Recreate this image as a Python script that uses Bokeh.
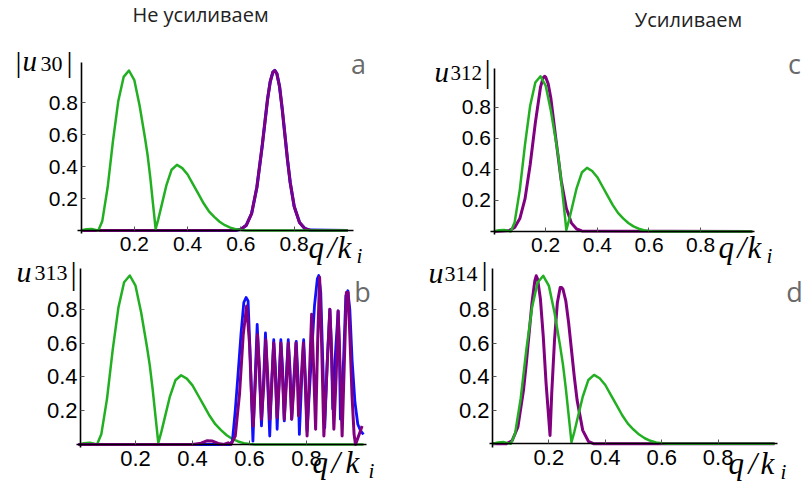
from bokeh.plotting import figure
from bokeh.models import Range1d, FixedTicker, Label, LinearAxis
from bokeh.embed import file_html
from bokeh.resources import INLINE

# ---------------- data ----------------
X_TICKS = [0.2, 0.4, 0.6, 0.8]
Y_TICKS = [0.2, 0.4, 0.6, 0.8]
TITLES = ["Не усиливаем", "Усиливаем"]
TAGS = ["a", "b", "c", "d"]
Y_SUBS = ["30", "313", "312", "314"]

# green curve (same in all four panels): (q/k_i, |u|)
GREEN = [(0.0, 0.0), (0.02, 0.008), (0.04, 0.01), (0.055, 0.004), (0.065, 0.0),
         (0.08, 0.06), (0.10, 0.27), (0.12, 0.56), (0.14, 0.81), (0.16, 0.96),
         (0.18, 1.0), (0.20, 0.94), (0.22, 0.78), (0.24, 0.58), (0.25, 0.47),
         (0.26, 0.33), (0.27, 0.17), (0.28, 0.01), (0.29, 0.07), (0.30, 0.14),
         (0.32, 0.28), (0.34, 0.38), (0.36, 0.41), (0.38, 0.39), (0.40, 0.35),
         (0.42, 0.29), (0.44, 0.23), (0.46, 0.17), (0.48, 0.12), (0.50, 0.085),
         (0.52, 0.055), (0.54, 0.033), (0.56, 0.018), (0.58, 0.008), (0.60, 0.003),
         (0.62, 0.0), (1.0, 0.0)]

# panel a: purple (blue underneath is the same)
PURPLE_A = [(0.0, 0.0), (0.58, 0.001), (0.60, 0.008), (0.62, 0.032), (0.64, 0.105),
            (0.66, 0.27), (0.68, 0.53), (0.70, 0.82), (0.71, 0.93), (0.72, 0.99),
            (0.727, 1.0), (0.735, 0.98), (0.745, 0.9), (0.755, 0.76), (0.765, 0.6),
            (0.775, 0.44), (0.785, 0.3), (0.80, 0.15), (0.82, 0.05), (0.84, 0.012),
            (0.86, 0.002), (1.0, 0.0)]
BLUE_A = PURPLE_A

# panel b: blue and purple oscillating curves
BLUE_B = [(0.0, 0.0), (0.53, 0.0), (0.54, 0.02), (0.55, 0.2), (0.56, 0.42), (0.57, 0.65),
          (0.58, 0.84), (0.588, 0.87), (0.595, 0.85), (0.603, 0.5), (0.612, 0.02),
          (0.62, 0.4), (0.627, 0.71), (0.634, 0.45), (0.642, 0.11), (0.65, 0.4),
          (0.656, 0.66), (0.663, 0.4), (0.671, 0.05), (0.678, 0.38), (0.685, 0.62),
          (0.691, 0.45), (0.697, 0.09), (0.704, 0.4), (0.710, 0.62), (0.716, 0.45),
          (0.722, 0.14), (0.729, 0.4), (0.736, 0.62), (0.742, 0.45), (0.748, 0.15),
          (0.756, 0.4), (0.764, 0.61), (0.770, 0.4), (0.775, 0.06), (0.783, 0.38),
          (0.790, 0.62), (0.796, 0.4), (0.802, 0.08), (0.815, 0.45), (0.828, 0.82),
          (0.838, 0.98), (0.843, 1.0), (0.85, 0.9), (0.857, 0.5), (0.864, 0.1),
          (0.873, 0.5), (0.882, 0.8), (0.887, 0.6), (0.892, 0.21), (0.90, 0.5),
          (0.911, 0.79), (0.915, 0.6), (0.919, 0.15), (0.93, 0.5), (0.938, 0.88),
          (0.945, 0.91), (0.952, 0.8), (0.96, 0.5), (0.97, 0.25), (0.98, 0.12),
          (0.99, 0.08), (1.0, 0.06)]
PURPLE_B = [(0.0, 0.0), (0.40, 0.0), (0.43, 0.008), (0.45, 0.022), (0.47, 0.02),
            (0.49, 0.006), (0.51, 0.0), (0.525, 0.01), (0.535, 0.0), (0.55, 0.05),
            (0.565, 0.3), (0.578, 0.65), (0.59, 0.82), (0.60, 0.6), (0.608, 0.25),
            (0.613, 0.11), (0.62, 0.35), (0.628, 0.65), (0.635, 0.45), (0.642, 0.15),
            (0.65, 0.35), (0.657, 0.62), (0.664, 0.4), (0.671, 0.15), (0.678, 0.35),
            (0.685, 0.6), (0.691, 0.4), (0.697, 0.16), (0.704, 0.35), (0.71, 0.6),
            (0.716, 0.4), (0.722, 0.15), (0.729, 0.35), (0.736, 0.6), (0.742, 0.4),
            (0.748, 0.15), (0.756, 0.35), (0.763, 0.6), (0.768, 0.4), (0.772, 0.17),
            (0.78, 0.35), (0.789, 0.6), (0.796, 0.35), (0.802, 0.05), (0.81, 0.4),
            (0.818, 0.77), (0.825, 0.45), (0.832, 0.09), (0.839, 0.6), (0.846, 0.99),
            (0.853, 0.6), (0.861, 0.05), (0.872, 0.45), (0.882, 0.8), (0.889, 0.5),
            (0.896, 0.09), (0.904, 0.4), (0.911, 0.79), (0.918, 0.45), (0.925, 0.05),
            (0.933, 0.5), (0.94, 0.9), (0.946, 0.9), (0.952, 0.65), (0.96, 0.28),
            (0.967, 0.06), (0.972, 0.0), (0.985, 0.06), (0.995, 0.11)]

# panel c: purple single peak
PURPLE_C = [(0.0, 0.0), (0.06, 0.007), (0.08, 0.026), (0.10, 0.083), (0.12, 0.21),
            (0.14, 0.43), (0.16, 0.70), (0.18, 0.93), (0.19, 0.99), (0.196, 1.0),
            (0.20, 0.995), (0.21, 0.95), (0.22, 0.86), (0.24, 0.59), (0.26, 0.33),
            (0.28, 0.15), (0.30, 0.054), (0.32, 0.016), (0.34, 0.004), (1.0, 0.0)]

# panel d: purple double peak
PURPLE_D = [(0.0, 0.0), (0.05, 0.0), (0.07, 0.02), (0.09, 0.1), (0.11, 0.32),
            (0.12, 0.48), (0.13, 0.66), (0.14, 0.84), (0.15, 0.97), (0.155, 1.0),
            (0.16, 0.98), (0.17, 0.86), (0.18, 0.64), (0.19, 0.36), (0.204, 0.05),
            (0.21, 0.3), (0.22, 0.62), (0.23, 0.84), (0.24, 0.93), (0.245, 0.93),
            (0.25, 0.92), (0.26, 0.85), (0.27, 0.72), (0.28, 0.56), (0.29, 0.4),
            (0.30, 0.26), (0.32, 0.08), (0.34, 0.015), (0.36, 0.0), (1.0, 0.0)]

GREEN_C = "#22b022"
PURPLE_COL = "#800080"
BLUE_COL = "#1010ff"

# ---------------- layout geometry (page pixels) ----------------
W, H = 803, 488
# zx/zy: pixel of data (0,0) of each panel; sx/sy: pixels per unit
SPECS = {
    "a": dict(zx=80.5, zy=230, sx=266.5, sy=160,
              xb=(-0.015, 1.024), yb=(-0.02, 1.05), yfix=0.0, tick=21),
    "c": dict(zx=493.5, zy=231, sx=258.3, sy=155.2,
              xb=(-0.015, 1.008), yb=(-0.02, 1.05), yfix=0.0, tick=21),
    "b": dict(zx=78, zy=444, sx=285, sy=169,
              xb=(-0.008, 1.012), yb=(-0.02, 1.041), yfix=0.007, tick=22),
    "d": dict(zx=492, zy=443.3, sx=282, sy=168,
              xb=(-0.01, 1.011), yb=(-0.02, 1.042), yfix=0.0, tick=22),
}

# default ranges = page pixels (used only for placing texts); panels use extra ranges
p = figure(width=W, height=H, x_range=Range1d(0, W), y_range=Range1d(H, 0),
           x_axis_type=None, y_axis_type=None,
           min_border_left=0, min_border_right=0, min_border_top=0, min_border_bottom=0,
           output_backend="svg", toolbar_location=None, tools="")
p.grid.visible = False
p.outline_line_color = None
p.background_fill_color = "white"
p.border_fill_color = "white"

for k, s in SPECS.items():
    p.extra_x_ranges[k] = Range1d(-s["zx"] / s["sx"], (W - s["zx"]) / s["sx"])
    p.extra_y_ranges[k] = Range1d((s["zy"] - H) / s["sy"], s["zy"] / s["sy"])


def style_axis(ax, size):
    ax.axis_line_color = "black"
    ax.axis_line_width = 1.6
    ax.major_tick_in = 4
    ax.major_tick_out = 0
    ax.major_tick_line_color = "#555555"
    ax.minor_tick_line_color = None
    ax.major_label_text_font = "Liberation Sans"
    ax.major_label_text_font_size = "%dpx" % size
    ax.major_label_text_color = "black"


for k, s in SPECS.items():
    xa = LinearAxis(x_range_name=k, y_range_name=k, ticker=FixedTicker(ticks=X_TICKS),
                    fixed_location=0, bounds=s["xb"], major_label_standoff=6)
    style_axis(xa, s["tick"])
    p.add_layout(xa, "below")
    ya = LinearAxis(x_range_name=k, y_range_name=k, ticker=FixedTicker(ticks=Y_TICKS),
                    fixed_location=s["yfix"], bounds=s["yb"], major_label_standoff=3)
    style_axis(ya, s["tick"])
    p.add_layout(ya, "left")


def line(k, pts, color, width):
    xs = [a for a, b in pts]
    ys = [b for a, b in pts]
    p.line(xs, ys, line_color=color, line_width=width, line_join="round",
           x_range_name=k, y_range_name=k)


ASCENT = {"Liberation Serif": 0.891, "Open Sans": 1.069}


def add_text(px, py, text, size, font="Liberation Serif", style="normal",
             color="black", align="left"):
    # py is the wanted baseline; the label is anchored by its top edge
    top = py - ASCENT[font] * size
    p.add_layout(Label(x=px, y=top, x_units="data", y_units="data", text=text,
                       text_font=font, text_font_size="%dpx" % size,
                       text_font_style=style, text_color=color,
                       text_align=align, text_baseline="top"))


# curves
line("a", BLUE_A, BLUE_COL, 3.2)
line("a", PURPLE_A, PURPLE_COL, 2.8)
line("a", GREEN, GREEN_C, 2.5)

line("b", GREEN, GREEN_C, 2.5)
line("b", BLUE_B, BLUE_COL, 2.8)
line("b", PURPLE_B, PURPLE_COL, 3.0)

line("c", PURPLE_C, PURPLE_COL, 3.0)
line("c", GREEN, GREEN_C, 2.5)

line("d", PURPLE_D, PURPLE_COL, 3.0)
line("d", GREEN, GREEN_C, 2.5)

# titles
add_text(200, 22, TITLES[0], 20, font="Open Sans", color="#222222", align="center")
add_text(688, 27, TITLES[1], 20, font="Open Sans", color="#222222", align="center")

# panel tags
add_text(358, 73, TAGS[0], 27, font="Open Sans", color="#6a6a6a", align="center")
add_text(362, 301, TAGS[1], 27, font="Open Sans", color="#6a6a6a", align="center")
add_text(794, 73, TAGS[2], 27, font="Open Sans", color="#6a6a6a", align="center")
add_text(794, 301, TAGS[3], 27, font="Open Sans", color="#6a6a6a", align="center")

# y-axis labels |u_n|
add_text(15, 71, "|", 30)
add_text(22, 70, "u", 29, style="italic")
add_text(40, 76, Y_SUBS[0], 22)
add_text(66, 71, "|", 30)

add_text(16, 281, "u", 30, style="italic")
add_text(34, 285, Y_SUBS[1], 22)
add_text(70, 283, "|", 31)

add_text(434, 81, "u", 29, style="italic")
add_text(450, 84, Y_SUBS[2], 21)
add_text(484, 81, "|", 31)

add_text(428, 282, "u", 30, style="italic")
add_text(444, 286, Y_SUBS[3], 22)
add_text(481, 283, "|", 31)

# x-axis labels q/k_i  (q, /, k, subscript i)
for qx, base, offs in ((308, 257, (0, 19, 29, 48)),
                       (718, 257, (0, 19, 29, 48)),
                       (312, 472, (0, 19, 33, 56)),
                       (728, 473, (0, 20, 32, 52))):
    add_text(qx + offs[0], base, "q", 31, style="italic")
    add_text(qx + offs[1], base, "/", 31, style="italic")
    add_text(qx + offs[2], base, "k", 31, style="italic")
    add_text(qx + offs[3], base + 5, "i", 21, style="italic")

open("out.html", "w").write(file_html(p, INLINE))
